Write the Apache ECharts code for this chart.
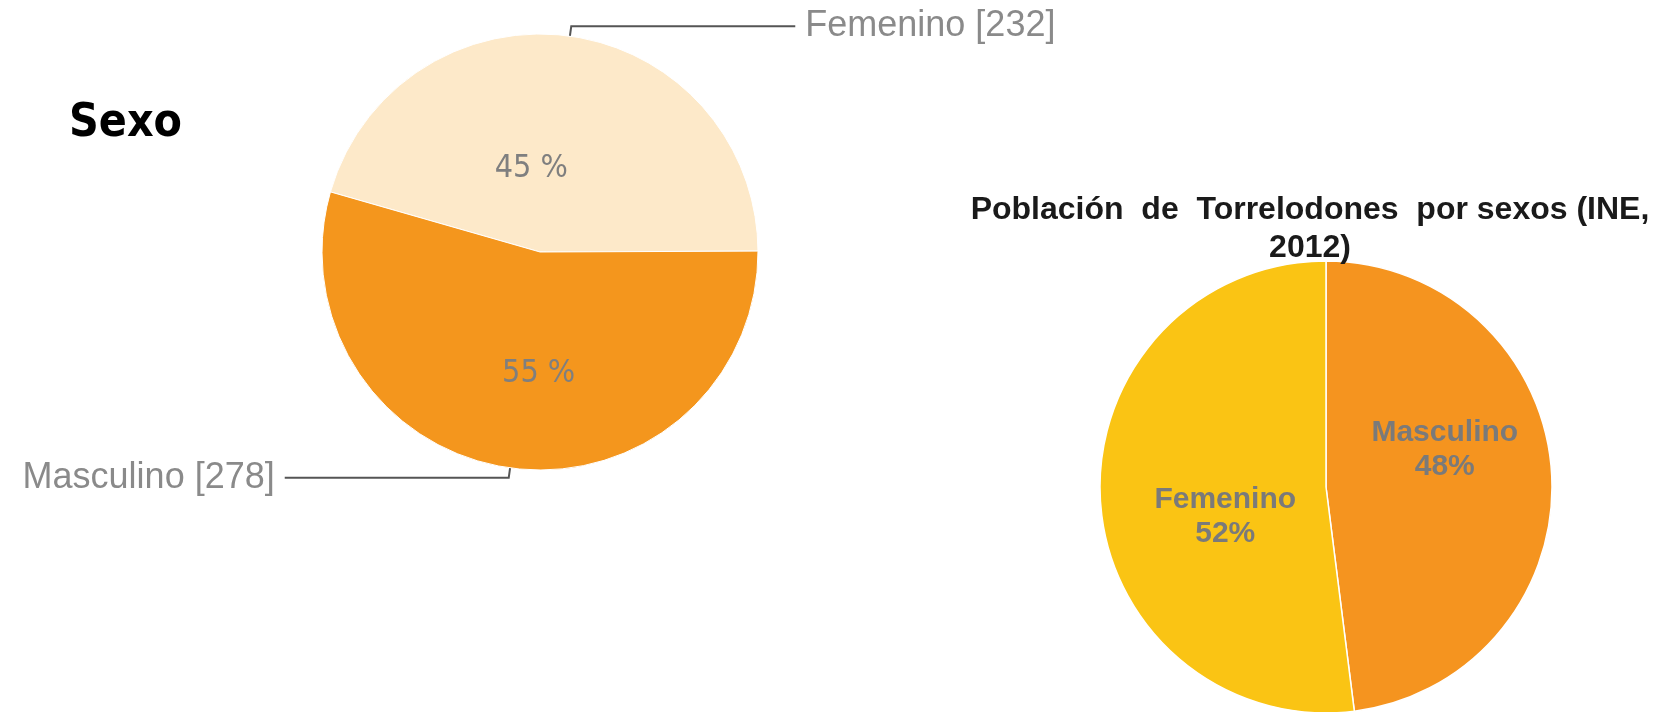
<!DOCTYPE html>
<html>
<head>
<meta charset="utf-8">
<script src="https://cdn.jsdelivr.net/npm/echarts@6/dist/echarts.min.js"></script>
<style>
  html, body { margin: 0; padding: 0; background: #fff; }
  #chartLeft { position: absolute; left: 0; top: 0; width: 1670px; height: 712px; }
  #chartRight { position: absolute; left: 950px; top: 0; width: 720px; height: 712px; }
</style>
</head>
<body>
<div id="chartLeft"></div>
<div id="chartRight"></div>
<script>
// encuesta: sexo
const surveyNames = ['Femenino', 'Masculino'];
const surveyValues = [232, 278];
const surveyColors = ['#fde9c9', '#f4961d'];

// INE 2012
const ineNames = ['Masculino', 'Femenino'];
const inePercents = [48, 52];
const ineColors = ['#f5941f', '#fac414'];

const condensed = "'DejaVu Sans Condensed', 'DejaVu Sans', sans-serif";
const arial = "'Liberation Sans', Arial, sans-serif";

const surveyData = surveyNames.map((n, i) => ({ name: n, value: surveyValues[i], itemStyle: { color: surveyColors[i] } }));
const ineData = ineNames.map((n, i) => ({ name: n, value: inePercents[i], itemStyle: { color: ineColors[i] } }));

// desplazamiento de etiquetas interiores (como en el original)
const surveyLabelShift = [[-24, 28], [14, 11]];
const ineLabelShift = [[3, -30], [15, 22]];

const optionLeft = {
  animation: false,
  title: {
    text: 'Sexo',
    left: 64,
    top: 96,
    textStyle: { fontFamily: condensed, fontWeight: 'bold', fontSize: 46, color: '#000' }
  },
  series: [
    {
      type: 'pie',
      center: [540, 252],
      radius: 218,
      startAngle: 164,
      clockwise: true,
      itemStyle: { borderColor: '#fff', borderWidth: 1 },
      label: {
        position: 'outside',
        formatter: '{b} [{c}]',
        fontFamily: arial,
        fontSize: 36,
        color: '#8a8a8a',
        distanceToLabelLine: 10,
        overflow: 'none'
      },
      labelLine: {
        show: true,
        length: 10,
        length2: 224,
        lineStyle: { color: '#555', width: 2 }
      },
      data: surveyData
    },
    {
      type: 'pie',
      silent: true,
      center: [540, 252],
      radius: 218,
      startAngle: 164,
      clockwise: true,
      itemStyle: { color: 'transparent' },
      label: {
        position: 'inside',
        formatter: p => Math.round(p.percent) + ' %',
        fontFamily: condensed,
        fontSize: 32,
        color: '#7f7f7f'
      },
      labelLine: { show: false },
      labelLayout: p => ({ dx: surveyLabelShift[p.dataIndex][0], dy: surveyLabelShift[p.dataIndex][1] }),
      data: surveyNames.map((n, i) => ({ name: n, value: surveyValues[i] }))
    }
  ]
};

const optionRight = {
  animation: false,
  title: {
    text: 'Población  de  Torrelodones  por sexos (INE,\n2012)',
    left: 'center',
    top: 186,
    textStyle: { fontFamily: arial, fontWeight: 'bold', fontSize: 32, color: '#1a1a1a', lineHeight: 38 }
  },
  series: [
    {
      type: 'pie',
      center: [376, 487],
      radius: 226,
      startAngle: 90,
      clockwise: true,
      itemStyle: { borderColor: '#fff', borderWidth: 1.5 },
      label: {
        position: 'inside',
        formatter: '{b}\n{d}%',
        fontFamily: arial,
        fontWeight: 'bold',
        fontSize: 30,
        lineHeight: 34,
        color: '#7a7a7a'
      },
      labelLine: { show: false },
      labelLayout: p => ({ dx: ineLabelShift[p.dataIndex][0], dy: ineLabelShift[p.dataIndex][1] }),
      data: ineData
    }
  ]
};

const chartLeft = echarts.init(document.getElementById('chartLeft'));
chartLeft.setOption(optionLeft);
const chartRight = echarts.init(document.getElementById('chartRight'));
chartRight.setOption(optionRight);
</script>
</body>
</html>
